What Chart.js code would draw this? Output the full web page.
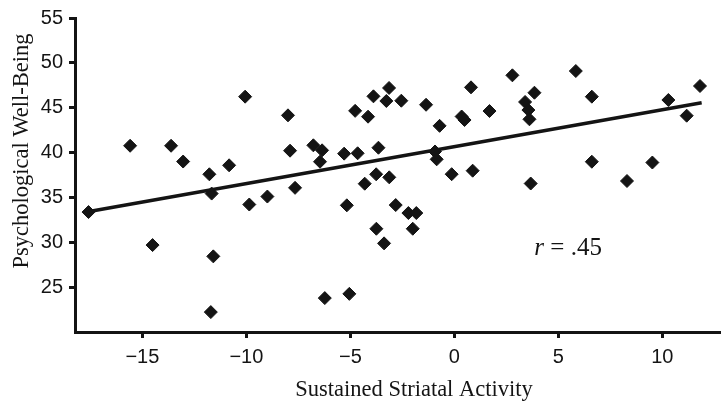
<!DOCTYPE html>
<html>
<head>
<meta charset="utf-8">
<style>
  html, body { margin: 0; padding: 0; background: #ffffff; }
  #wrap { width: 721px; height: 404px; }
</style>
<script src="https://cdn.jsdelivr.net/npm/chart.js@4/dist/chart.umd.min.js"></script>
</head>
<body>
<div id="wrap"><canvas id="c" width="721" height="404"></canvas></div>
<script>
// ---- data ----
const striatalActivity = [
  -17.59, -15.59, -14.51, -13.62, -13.04, -11.78, -11.67, -11.59, -11.71, -10.83,
  -10.06, -9.86, -8.99, -8.0, -7.9, -7.66, -6.78, -6.36, -6.46, -6.23,
  -5.3, -5.17, -5.05, -4.77, -4.65, -4.31, -4.15, -3.89, -3.76, -3.65,
  -3.75, -3.38, -3.27, -3.14, -3.13, -2.82, -2.55, -2.21, -1.83, -2.0,
  -1.36, -0.93, -0.85, -0.71, -0.13, 0.35, 0.49, 0.8, 0.88, 1.69,
  2.79, 3.4, 3.56, 3.61, 3.85, 3.67, 5.84, 6.61, 6.61, 8.3,
  9.52, 10.29, 11.17, 11.81
];
const wellBeing = [
  33.37, 40.76, 29.69, 40.76, 39.0, 37.58, 35.43, 28.43, 22.22, 38.58,
  46.23, 34.21, 35.1, 44.15, 40.21, 36.07, 40.81, 40.25, 38.98, 23.78,
  39.88, 34.12, 24.25, 44.65, 39.92, 36.53, 44.0, 46.27, 37.58, 40.54,
  31.51, 29.88, 45.75, 47.2, 37.24, 34.15, 45.78, 33.26, 33.26, 31.51,
  45.33, 40.12, 39.25, 42.98, 37.59, 44.02, 43.63, 47.27, 37.98, 44.63,
  48.61, 45.64, 44.74, 43.71, 46.67, 36.55, 49.09, 46.23, 38.98, 36.83,
  38.89, 45.86, 44.11, 47.42
];
const fitLineX = [-17.56, 11.89];
const fitLineY = [33.43, 45.56];

const xTickValues = [-15, -10, -5, 0, 5, 10];
const xTickLabels = ['\u221215', '\u221210', '\u22125', '0', '5', '10'];
const yTickValues = [25, 30, 35, 40, 45, 50, 55];
const yTickLabels = ['25', '30', '35', '40', '45', '50', '55'];

const xTitle = 'Sustained Striatal Activity';
const yTitle = 'Psychological Well-Being';
const statSymbol = 'r';
const statValue = ' = .45';

// ---- build chart ----
const ink = '#141414';
const scatterPoints = striatalActivity.map((x, i) => ({ x: x, y: wellBeing[i] }));
const fitPoints = fitLineX.map((x, i) => ({ x: x, y: fitLineY[i] }));

const textPlugin = {
  id: 'textPlugin',
  afterDraw(chart, args, opts) {
    const ctx = chart.ctx;
    ctx.save();
    ctx.fillStyle = ink;
    ctx.font = '22.5px "Liberation Serif", "Times New Roman", serif';
    ctx.textAlign = 'center';
    ctx.textBaseline = 'alphabetic';
    ctx.fillText(xTitle, opts.xTitleX, opts.xTitleY);
    ctx.save();
    ctx.translate(opts.yTitleX, opts.yTitleY);
    ctx.rotate(-Math.PI / 2);
    ctx.fillText(yTitle, 0, 0);
    ctx.restore();

    // statistic annotation, anchored in data coordinates
    const cx = chart.scales.x.getPixelForValue(opts.statAt[0]);
    const cy = chart.scales.y.getPixelForValue(opts.statAt[1]);
    const italicFont = 'italic 25px "Liberation Serif", "Times New Roman", serif';
    const plainFont = '25px "Liberation Serif", "Times New Roman", serif';
    ctx.font = italicFont;
    const w1 = ctx.measureText(statSymbol).width;
    ctx.font = plainFont;
    const w2 = ctx.measureText(statValue).width;
    let sx = cx - (w1 + w2) / 2;
    ctx.textAlign = 'left';
    ctx.font = italicFont;
    ctx.fillText(statSymbol, sx, cy);
    ctx.font = plainFont;
    ctx.fillText(statValue, sx + w1, cy);
    ctx.restore();
  }
};

const tickFont = { family: '"Liberation Sans", Arial, sans-serif', size: 20 };

new Chart(document.getElementById('c'), {
  type: 'scatter',
  data: {
    datasets: [
      {
        type: 'line',
        data: fitPoints,
        borderColor: ink,
        borderWidth: 3.5,
        pointRadius: 0,
        fill: false,
        tension: 0,
        order: 1
      },
      {
        data: scatterPoints,
        pointStyle: 'rectRot',
        pointRadius: 6.5,
        pointHoverRadius: 6.5,
        backgroundColor: ink,
        borderColor: ink,
        borderWidth: 1,
        order: 2
      }
    ]
  },
  options: {
    responsive: false,
    animation: false,
    devicePixelRatio: 1,
    layout: { autoPadding: false, padding: { top: 18, left: 0, right: 0, bottom: 0 } },
    plugins: {
      legend: { display: false },
      tooltip: { enabled: false },
      textPlugin: {
        xTitleX: 414, xTitleY: 396,
        yTitleX: 28, yTitleY: 151,
        statAt: [5.47, 28.6]
      }
    },
    scales: {
      x: {
        type: 'linear',
        min: -18.24,
        max: 12.82,
        afterBuildTicks: s => { s.ticks = xTickValues.map(v => ({ value: v })); },
        afterFit: s => { s.height = 72; s.paddingLeft = 0; s.paddingRight = 0; },
        grid: { drawOnChartArea: false, drawTicks: true, tickLength: 6, tickWidth: 3, tickColor: ink },
        border: { display: true, color: ink, width: 3 },
        ticks: {
          font: tickFont, color: ink, padding: 7, maxRotation: 0, autoSkip: false,
          callback: v => xTickLabels[xTickValues.indexOf(v)]
        }
      },
      y: {
        type: 'linear',
        min: 20,
        max: 55,
        afterBuildTicks: s => { s.ticks = yTickValues.map(v => ({ value: v })); },
        afterFit: s => { s.width = 75; s.paddingTop = 0; s.paddingBottom = 0; },
        grid: { drawOnChartArea: false, drawTicks: true, tickLength: 6, tickWidth: 3, tickColor: ink },
        border: { display: true, color: ink, width: 3 },
        ticks: {
          font: tickFont, color: ink, padding: 6, autoSkip: false,
          callback: v => yTickLabels[yTickValues.indexOf(v)]
        }
      }
    }
  },
  plugins: [textPlugin]
});
</script>
</body>
</html>
